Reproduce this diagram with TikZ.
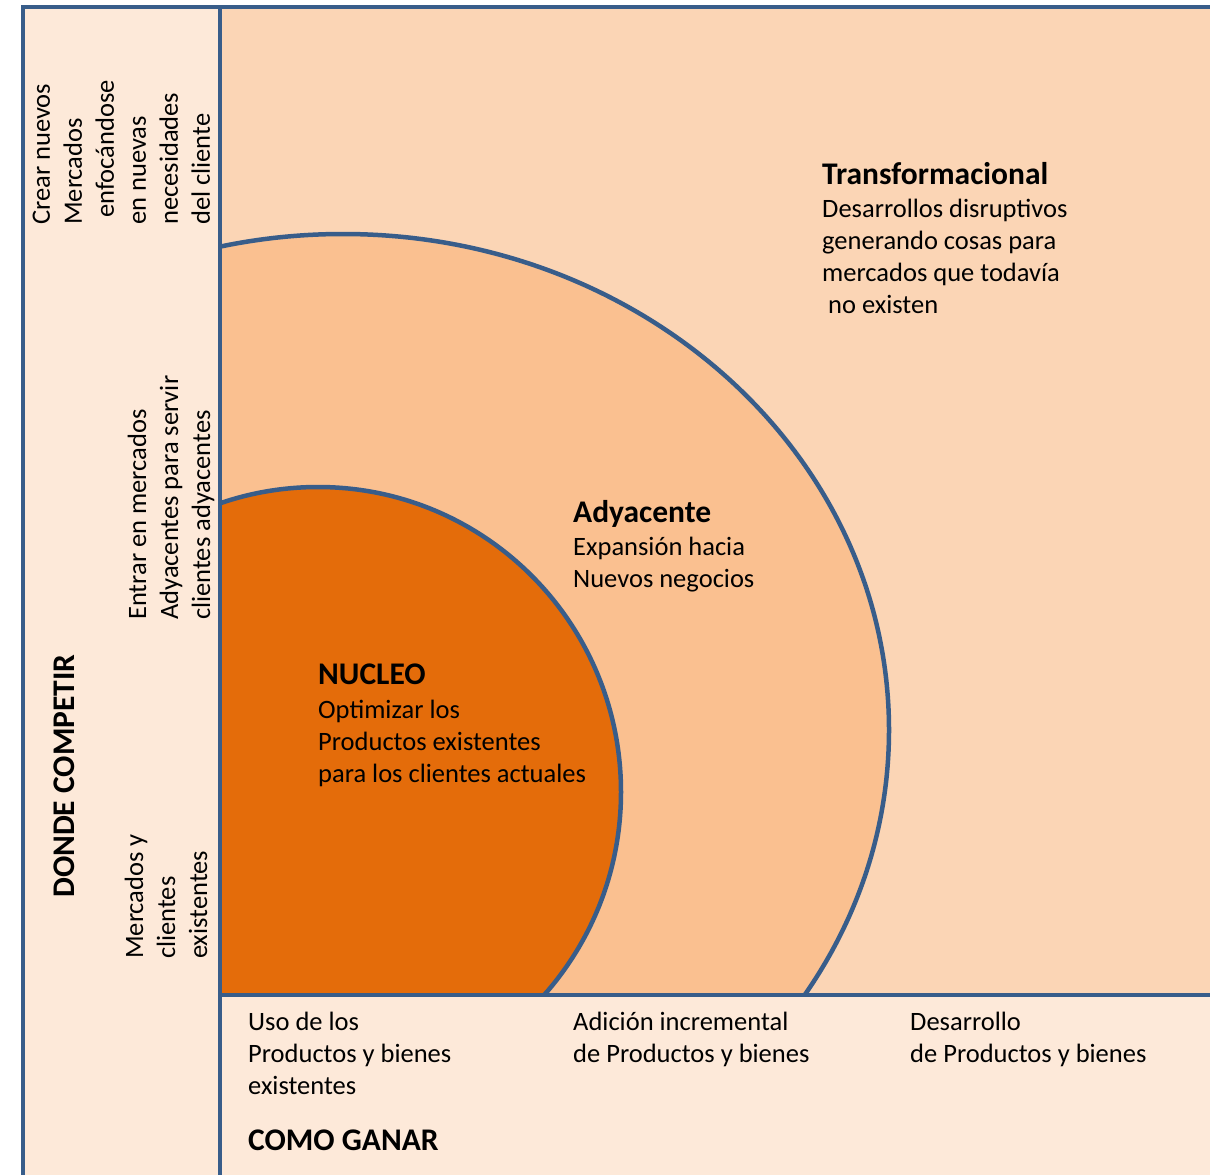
\documentclass[tikz,border=0pt]{standalone}
\usepackage{fontspec}
\setmainfont{Carlito}
\definecolor{borde}{HTML}{385D8A}
\definecolor{fondoclaro}{HTML}{FDE9D9}
\definecolor{fondo}{HTML}{FBD5B5}
\definecolor{medio}{HTML}{FAC090}
\definecolor{nucleo}{HTML}{E46C0A}
\tikzset{
  texto/.style={inner sep=0pt, align=left, anchor=north west, font=\fontsize{26.5}{32}\selectfont},
  titulo/.style={inner sep=0pt, anchor=base west, font=\fontsize{31.5}{32}\selectfont\bfseries},
  vertical/.style={texto, rotate=90},
  linea/.style={borde, line width=4.5pt},
}

\begin{document}
\begin{tikzpicture}[x=1pt,y=-1pt]
  \useasboundingbox (0,0) rectangle (1210,1175);
  % fondos
  \fill[fondoclaro] (23,7) rectangle (1215,1180);
  \fill[fondo] (220,7) rectangle (1215,995);
  \begin{scope}
    \clip (220,7) rectangle (1215,995);
    \filldraw[fill=medio, draw=borde, line width=4.5pt] (343,730) ellipse [x radius=546pt, y radius=496pt];
    \filldraw[fill=nucleo, draw=borde, line width=4.5pt] (318,792) ellipse [x radius=303pt, y radius=305pt];
  \end{scope}
  % bordes
  \draw[linea] (23,1180) -- (23,7) -- (1215,7);
  \draw[linea] (220,7) -- (220,1180);
  \draw[linea] (220,995) -- (1215,995);

  % zonas
  \node[titulo] (trans) at (822,184) {Transformacional};
  \node[texto] (transdesc) at (822,198.5) {Desarrollos disruptivos\\generando cosas para\\mercados que todavía\\\hspace*{6pt}no existen};
  \node[titulo] (ady) at (573,522) {Adyacente};
  \node[texto] (adydesc) at (573,536.5) {Expansión hacia\\Nuevos negocios};
  \node[titulo] (nucleo) at (318,684) {NUCLEO};
  \node[texto] (nucleodesc) at (318,699.5) {Optimizar los\\Productos existentes\\para los clientes actuales};

  % eje horizontal
  \node[texto] (uso) at (248,1012) {Uso de los\\Productos y bienes\\existentes};
  \node[texto] (adicion) at (573,1012) {Adición incremental\\de Productos y bienes};
  \node[texto] (desarrollo) at (910,1012) {Desarrollo\\de Productos y bienes};
  \node[titulo] (ganar) at (248,1150) {COMO GANAR};

  % eje vertical
  \node[vertical] (crear) at (32.5,225) {Crear nuevos\\Mercados\\\hspace*{7pt}enfocándose\\en nuevas\\necesidades\\del cliente};
  \node[vertical] (entrar) at (127.5,620) {Entrar en mercados\\Adyacentes para servir\\clientes adyacentes};
  \node[vertical] (existentes) at (124.5,959) {Mercados y\\clientes\\existentes};
  \node[titulo, rotate=90] (competir) at (74,898) {DONDE COMPETIR};
\end{tikzpicture}
\end{document}
